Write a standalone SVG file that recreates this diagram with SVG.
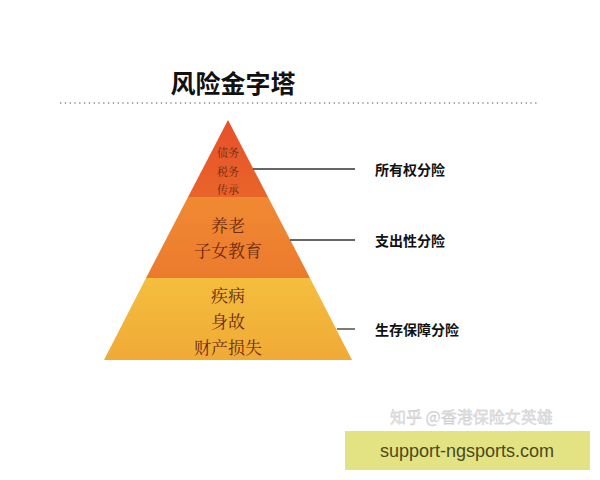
<svg xmlns="http://www.w3.org/2000/svg" width="600" height="480" viewBox="0 0 600 480">
<style>
.t{font-family:"Liberation Serif","Noto Serif CJK SC","Noto Sans CJK SC",serif;fill:#6a2a10;text-anchor:middle}
.l{font-family:"Noto Sans CJK SC",sans-serif;font-weight:bold;font-size:14px;fill:#111}
.c{stroke:#333;stroke-width:1.3}
</style>
<defs>
<linearGradient id="g1" x1="0" y1="0" x2="0" y2="1"><stop offset="0" stop-color="#e8502a"/><stop offset="1" stop-color="#e8652a"/></linearGradient>
<linearGradient id="g2" x1="0" y1="0" x2="0" y2="1"><stop offset="0" stop-color="#f08a32"/><stop offset="1" stop-color="#ec7a2e"/></linearGradient>
<linearGradient id="g3" x1="0" y1="0" x2="0" y2="1"><stop offset="0" stop-color="#f4be3e"/><stop offset="1" stop-color="#f0aa36"/></linearGradient>
</defs>
<rect width="600" height="480" fill="#fff"/>
<text x="233" y="93" text-anchor="middle" font-family="Noto Sans CJK SC,sans-serif" font-weight="bold" font-size="25" fill="#111">风险金字塔</text>
<line x1="60" y1="103" x2="540" y2="103" stroke="#888" stroke-width="1.3" stroke-dasharray="1.3 3.5"/>
<g id="tier1"><polygon points="228,120 268,197 188,197" fill="url(#g1)"/>
<text class="t" x="228" y="157" font-size="11">债务</text><text class="t" x="228" y="176" font-size="11">税务</text><text class="t" x="228" y="194" font-size="11">传承</text></g>
<g id="tier2"><polygon points="188,197 268,197 310,278 146,278" fill="url(#g2)"/>
<text class="t" x="228" y="232" font-size="17">养老</text><text class="t" x="228" y="257" font-size="17">子女教育</text></g>
<g id="tier3"><polygon points="146,278 310,278 352,360 104,360" fill="url(#g3)"/>
<text class="t" x="228" y="302" font-size="17">疾病</text><text class="t" x="228" y="328" font-size="17">身故</text><text class="t" x="228" y="354" font-size="17">财产损失</text></g>
<g id="connectors">
<line class="c" x1="253" y1="169" x2="355" y2="169"/>
<line class="c" x1="290" y1="240" x2="355" y2="240"/>
<line class="c" x1="337" y1="329" x2="355" y2="329"/>
</g>
<g id="labels">
<text class="l" x="375" y="175">所有权分险</text>
<text class="l" x="375" y="246">支出性分险</text>
<text class="l" x="375" y="335">生存保障分险</text>
</g>
<text x="390" y="423" font-family="Noto Sans CJK SC,sans-serif" font-size="16" fill="#e4e4e4" stroke="#c0c0c0" stroke-width="0.3">知乎 @香港保险女英雄</text>
<rect x="345" y="431" width="245" height="39" fill="#e3e384"/>
<text x="467" y="457" text-anchor="middle" font-family="Liberation Sans,sans-serif" font-size="18" fill="#4a4a1a">support-ngsports.com</text>
</svg>
